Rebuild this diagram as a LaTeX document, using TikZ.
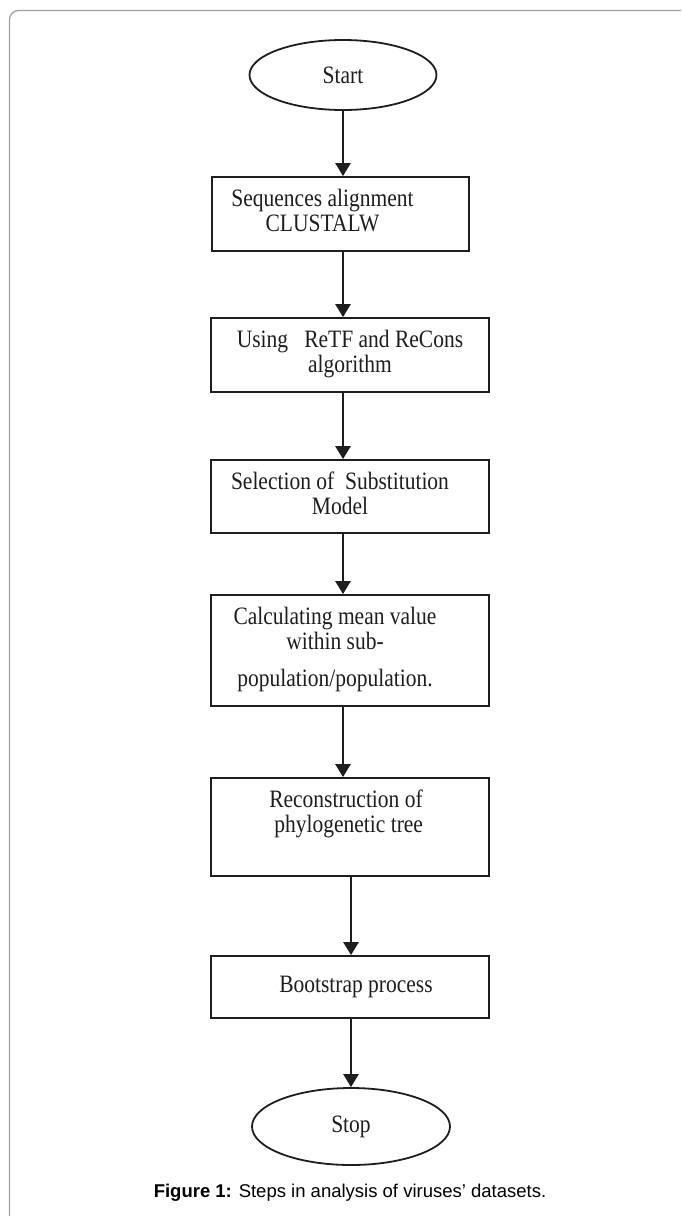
\documentclass[tikz,border=0pt]{standalone}
\usepackage{fontspec}
\setmainfont{Liberation Serif}
\newfontfamily\boxfont[FakeStretch=0.86]{Liberation Serif}
\newfontfamily\capfont{Liberation Sans}
\usetikzlibrary{shapes.geometric, arrows.meta}
\definecolor{framegray}{RGB}{160,160,160}
\definecolor{inkdark}{RGB}{30,30,30}
\tikzstyle{stepbox} = [rectangle, draw=inkdark, line width=1.8pt, minimum width=278pt, inner sep=0pt, text=inkdark, font=\boxfont\fontsize{25}{25}\selectfont]
\tikzstyle{terminal} = [ellipse, draw=inkdark, line width=1.8pt, inner sep=0pt, text=inkdark, font=\boxfont\fontsize{25}{25}\selectfont]
\tikzstyle{arrow} = [draw=inkdark, line width=2.6pt, -{Triangle[length=13pt,width=15pt]}]
% text lines of a box, moved sideways by half of #1
\newcommand{\boxlines}[2]{\begin{tabular}{@{}c@{}}#2\end{tabular}\hspace*{#1}}

\begin{document}
\begin{tikzpicture}[x=1pt, y=-1pt]
\useasboundingbox (0,0) rectangle (681,1216);
\draw [framegray, line width=1.3pt, rounded corners=9pt] (681,10.5) -- (9.5,10.5) -- (9.5,1216);

\node (start) [terminal, minimum width=187pt, minimum height=70pt] at (343,75) {Start};
\node (b1) [stepbox, minimum width=257pt, minimum height=74pt] at (340.5,214) {\boxlines{36pt}{Sequences alignment\\ CLUSTALW}};
\node (b2) [stepbox, minimum height=74pt] at (350,355) {\boxlines{0pt}{Using \ \ ReTF and ReCons\\ algorithm}};
\node (b3) [stepbox, minimum height=73pt] at (350,496.5) {\boxlines{20pt}{Selection of \ Substitution\\ Model}};
\node (b4) [stepbox, minimum height=111pt] at (350,650.5) {\boxlines{30pt}{Calculating mean value\\ within sub-\\[12pt] population/population.}};
\node (b5) [stepbox, minimum height=98pt] at (350,827) {\boxlines{8pt}{Reconstruction of\\ \ phylogenetic tree\\ \mbox{}}};
\node (b6) [stepbox, minimum height=62pt] at (350,987) {\boxlines{-12pt}{Bootstrap process}};
\node (stop) [terminal, minimum width=198pt, minimum height=77pt] at (351,1126.5) {Stop};

\node (caption) at (350,1193) {\capfont\fontsize{18.5}{20}\selectfont\textbf{Figure 1:} Steps in analysis of viruses’ datasets.};

\draw [arrow] (start.south) -- (b1.north -| start);
\draw [arrow] (b1.south -| start) -- (b2.north -| start);
\draw [arrow] (b2.south -| start) -- (b3.north -| start);
\draw [arrow] (b3.south -| start) -- (b4.north -| start);
\draw [arrow] (b4.south -| start) -- (b5.north -| start);
\draw [arrow] (b5.south -| stop) -- (b6.north -| stop);
\draw [arrow] (b6.south -| stop) -- (stop.north);

\end{tikzpicture}
\end{document}
